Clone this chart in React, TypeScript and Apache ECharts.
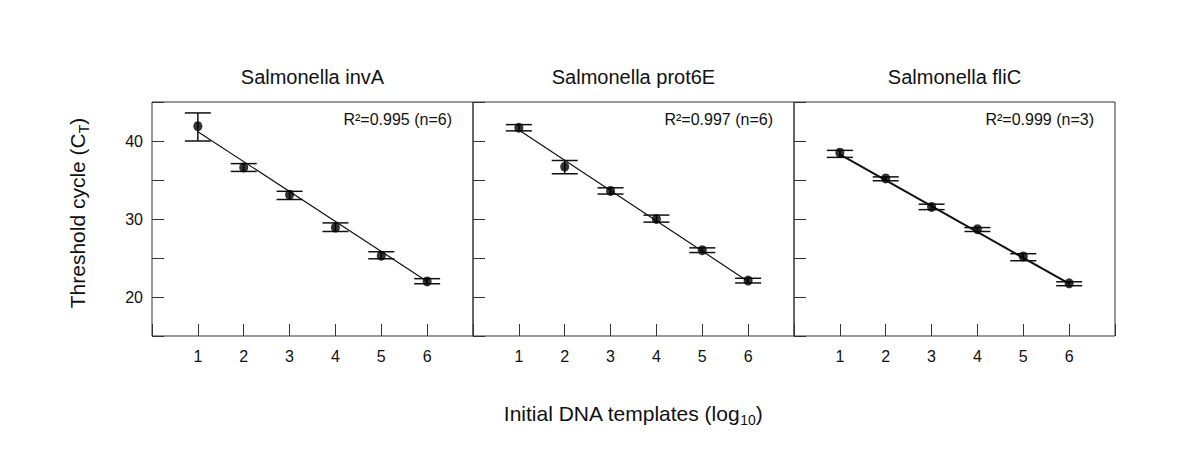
import React, { useEffect, useRef } from "react";
import * as echarts from "echarts";

const FONT = '"Liberation Sans", Arial, Helvetica, sans-serif';

// ---- data ----
const panelTitles = ["Salmonella invA", "Salmonella prot6E", "Salmonella fliC"];
const r2Labels = ["R²=0.995 (n=6)", "R²=0.997 (n=6)", "R²=0.999 (n=3)"];
const templates = [1, 2, 3, 4, 5, 6];

const invAMean = [41.9, 36.6, 33.1, 28.9, 25.3, 22.0];
const invALow = [40.0, 36.1, 32.5, 28.4, 24.9, 21.7];
const invAHigh = [43.6, 37.1, 33.55, 29.5, 25.8, 22.35];
const invAFit = [41.2, 22.0];

const prot6EMean = [41.7, 36.7, 33.6, 30.0, 26.0, 22.1];
const prot6ELow = [41.3, 35.8, 33.2, 29.6, 25.7, 21.8];
const prot6EHigh = [42.1, 37.5, 34.0, 30.5, 26.3, 22.4];
const prot6EFit = [41.4, 22.0];

const fliCMean = [38.5, 35.2, 31.55, 28.7, 25.2, 21.75];
const fliCLow = [37.9, 34.9, 31.2, 28.4, 24.65, 21.45];
const fliCHigh = [38.8, 35.4, 31.9, 28.9, 25.55, 21.95];
const fliCFit = [38.3, 21.7];

const fitX = [1, 6];
const xTickLabels = ["1", "2", "3", "4", "5", "6"];
const yTickLabels = [20, 30, 40];

const panels = [
  { mean: invAMean, low: invALow, high: invAHigh, fit: invAFit, fitWidth: 1.2 },
  { mean: prot6EMean, low: prot6ELow, high: prot6EHigh, fit: prot6EFit, fitWidth: 1.2 },
  { mean: fliCMean, low: fliCLow, high: fliCHigh, fit: fliCFit, fitWidth: 2 },
];

const GRID_LEFT = [152, 473, 794];
const GRID_W = 321;
const GRID_TOP = 102;
const GRID_H = 234;
const INK = "#111";

export default function App() {
  const ref = useRef<HTMLDivElement>(null);

  useEffect(() => {
    if (!ref.current) return;
    const chart = echarts.init(ref.current, undefined, { renderer: "svg" });

    const grids = GRID_LEFT.map((l) => ({
      left: l,
      top: GRID_TOP,
      width: GRID_W,
      height: GRID_H,
      show: true,
      borderColor: "#333",
      borderWidth: 1,
      backgroundColor: "transparent",
    }));

    const xAxes = panels.map((_, i) => ({
      type: "value",
      gridIndex: i,
      min: 0,
      max: 7,
      interval: 1,
      axisLine: { show: false },
      splitLine: { show: false },
      axisTick: { show: true, inside: true, length: 12, lineStyle: { color: "#333", width: 1 } },
      axisLabel: {
        show: true,
        margin: 12,
        fontSize: 16,
        fontFamily: FONT,
        color: INK,
        formatter: (v: number) => (v >= 1 && v <= 6 ? xTickLabels[v - 1] : ""),
      },
    }));

    const yAxes = panels.map((_, i) => ({
      type: "value",
      gridIndex: i,
      min: 15,
      max: 45,
      interval: 5,
      axisLine: { show: false },
      splitLine: { show: false },
      axisTick: { show: true, inside: true, length: 12, lineStyle: { color: "#333", width: 1 } },
      axisLabel: {
        show: i === 0,
        margin: 9,
        fontSize: 16,
        fontFamily: FONT,
        color: INK,
        formatter: (v: number) => (yTickLabels.includes(v) ? String(v) : ""),
      },
    }));

    const series: any[] = [];
    panels.forEach((p, i) => {
      series.push({
        type: "line",
        xAxisIndex: i,
        yAxisIndex: i,
        data: fitX.map((x, k) => [x, p.fit[k]]),
        showSymbol: false,
        symbol: "none",
        lineStyle: { color: INK, width: p.fitWidth },
        z: 2,
        silent: true,
      });
      series.push({
        type: "custom",
        xAxisIndex: i,
        yAxisIndex: i,
        data: templates.map((x, k) => [x, p.low[k], p.high[k]]),
        encode: { x: 0, y: [1, 2] },
        z: 3,
        silent: true,
        renderItem: (_params: any, api: any) => {
          const x = api.value(0);
          const lo = api.coord([x, api.value(1)]);
          const hi = api.coord([x, api.value(2)]);
          const hw = 13;
          const st = { stroke: INK, lineWidth: 1.5 };
          return {
            type: "group",
            children: [
              { type: "line", shape: { x1: hi[0], y1: hi[1], x2: lo[0], y2: lo[1] }, style: st },
              { type: "line", shape: { x1: hi[0] - hw, y1: hi[1], x2: hi[0] + hw, y2: hi[1] }, style: st },
              { type: "line", shape: { x1: lo[0] - hw, y1: lo[1], x2: lo[0] + hw, y2: lo[1] }, style: st },
            ],
          };
        },
      });
      series.push({
        type: "scatter",
        xAxisIndex: i,
        yAxisIndex: i,
        data: templates.map((x, k) => [x, p.mean[k]]),
        symbol: "circle",
        symbolSize: [9, 10],
        itemStyle: { color: "#000" },
        z: 4,
        silent: true,
      });
    });

    const graphics: any[] = [];
    panelTitles.forEach((t, i) => {
      graphics.push({
        type: "text",
        x: GRID_LEFT[i] + GRID_W / 2,
        y: 77,
        style: {
          text: t,
          fontSize: 20,
          fontFamily: FONT,
          fill: INK,
          align: "center",
          verticalAlign: "middle",
          textAlign: "center",
          textVerticalAlign: "middle",
        },
      });
      graphics.push({
        type: "text",
        x: GRID_LEFT[i] + GRID_W - 21,
        y: 119,
        style: {
          text: r2Labels[i],
          fontSize: 16,
          fontFamily: FONT,
          fill: INK,
          align: "right",
          verticalAlign: "middle",
          textAlign: "right",
          textVerticalAlign: "middle",
        },
      });
    });

    graphics.push({
      type: "text",
      x: 633,
      y: 413,
      style: {
        text: "{m|Initial DNA templates (log}{s|10}{m|)}",
        fill: INK,
        align: "center",
        verticalAlign: "middle",
        textAlign: "center",
        textVerticalAlign: "middle",
        rich: {
          m: { fontSize: 21, fontFamily: FONT, fill: INK, lineHeight: 28, verticalAlign: "middle" },
          s: { fontSize: 14, fontFamily: FONT, fill: INK, lineHeight: 14, verticalAlign: "bottom" },
        },
      },
    });

    graphics.push({
      type: "text",
      x: 77,
      y: 213,
      rotation: Math.PI / 2,
      style: {
        text: "{m|Threshold cycle (C}{s|T}{m|)}",
        fill: INK,
        align: "center",
        verticalAlign: "middle",
        textAlign: "center",
        textVerticalAlign: "middle",
        rich: {
          m: { fontSize: 21, fontFamily: FONT, fill: INK, lineHeight: 28, verticalAlign: "middle" },
          s: { fontSize: 14, fontFamily: FONT, fill: INK, lineHeight: 14, verticalAlign: "bottom" },
        },
      },
    });

    chart.setOption({
      animation: false,
      backgroundColor: "#ffffff",
      textStyle: { fontFamily: FONT },
      grid: grids,
      xAxis: xAxes,
      yAxis: yAxes,
      series,
      graphic: graphics,
    });

    return () => chart.dispose();
  }, []);

  return (
    <div
      ref={ref}
      style={{ position: "fixed", left: 0, top: 0, width: 1200, height: 467, background: "#fff" }}
    />
  );
}
